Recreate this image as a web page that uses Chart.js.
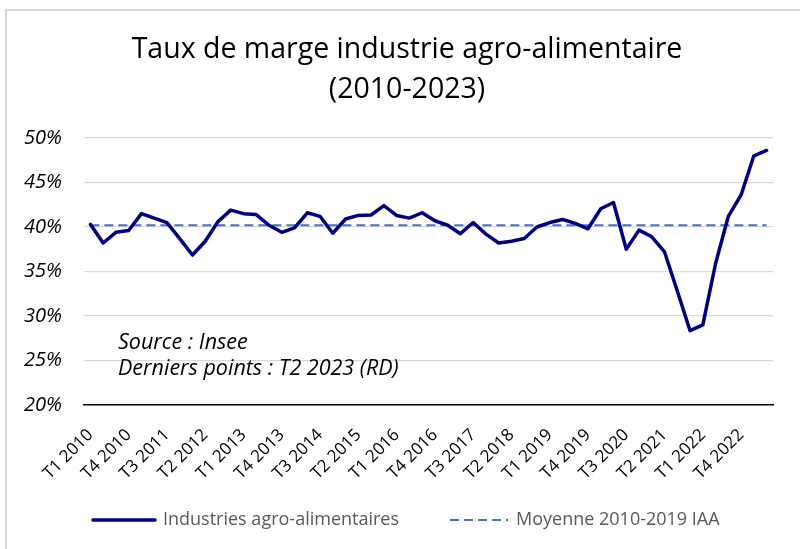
<!DOCTYPE html>
<html>
<head>
<meta charset="utf-8">
<script src="https://cdn.jsdelivr.net/npm/chart.js@4.4.1/dist/chart.umd.min.js"></script>
<style>
  html, body { margin: 0; padding: 0; background: #fff; }
  #wrap { position: relative; width: 800px; height: 549px; }
</style>
</head>
<body>
<div id="wrap"><canvas id="c"></canvas></div>
<script>
const FONT = "'Open Sans', 'Noto Sans', 'Liberation Sans', sans-serif";

const quarters = [];
for (let y = 2010; y <= 2023; y++) {
  for (let q = 1; q <= 4; q++) {
    if (y === 2023 && q > 2) break;
    quarters.push('T' + q + ' ' + y);
  }
}

const seriesLabels = ['Industries agro-alimentaires', 'Moyenne 2010-2019 IAA'];

const tauxMarge = [
  40.3, 38.2, 39.4, 39.6, 41.5, 41.0, 40.5, 38.7, 36.85, 38.4,
  40.6, 41.9, 41.5, 41.4, 40.2, 39.4, 39.9, 41.6, 41.2, 39.3,
  40.9, 41.3, 41.35, 42.4, 41.3, 41.0, 41.6, 40.7, 40.2, 39.25,
  40.5, 39.2, 38.2, 38.4, 38.7, 40.0, 40.5, 40.85, 40.4, 39.8,
  42.05, 42.75, 37.5, 39.65, 38.9, 37.2, 32.8, 28.35, 29.0, 35.9,
  41.2, 43.6, 48.0, 48.6
];

const moyenneValue = 40.2;
const moyenne = quarters.map(() => moyenneValue);

const yTicks = [20, 25, 30, 35, 40, 45, 50];

const annotations = [
  { text: 'Source : Insee', value: 27.0 },
  { text: 'Derniers points : T2 2023 (RD)', value: 24.1 }
];

const framePlugin = {
  id: 'frame',
  beforeDraw(chart) {
    const ctx = chart.ctx;
    ctx.save();
    ctx.fillStyle = '#fff';
    ctx.fillRect(0, 0, chart.width, chart.height);
    ctx.strokeStyle = '#d9d9d9';
    ctx.lineWidth = 2;
    ctx.beginPath();
    ctx.moveTo(6, chart.height + 5);
    ctx.lineTo(6, 10);
    ctx.lineTo(chart.width + 5, 10);
    ctx.stroke();
    ctx.restore();
  }
};

const notePlugin = {
  id: 'notes',
  afterDatasetsDraw(chart) {
    const ctx = chart.ctx;
    const ys = chart.scales.y;
    ctx.save();
    ctx.font = 'italic 21.5px ' + FONT;
    ctx.fillStyle = '#000';
    ctx.textBaseline = 'middle';
    ctx.textAlign = 'left';
    annotations.forEach(a => {
      ctx.fillText(a.text, chart.chartArea.left + 34, ys.getPixelForValue(a.value));
    });
    ctx.restore();
  }
};

const legendPlugin = {
  id: 'customLegend',
  afterDraw(chart) {
    const ctx = chart.ctx;
    const ds = chart.data.datasets;
    const starts = [93, 450];
    const widths = [62, 58];
    const yc = 520;
    ctx.save();
    ctx.font = '18px ' + FONT;
    ctx.fillStyle = '#595959';
    ctx.textBaseline = 'middle';
    ds.forEach((d, i) => {
      ctx.strokeStyle = d.borderColor;
      ctx.lineWidth = d.borderWidth;
      ctx.lineCap = i === 0 ? 'round' : 'butt';
      ctx.setLineDash(d.borderDash || []);
      ctx.beginPath();
      ctx.moveTo(starts[i], yc);
      ctx.lineTo(starts[i] + widths[i], yc);
      ctx.stroke();
      ctx.setLineDash([]);
      ctx.fillText(d.label, starts[i] + widths[i] + 8, yc);
    });
    ctx.restore();
  }
};

new Chart(document.getElementById('c'), {
  type: 'line',
  data: {
    labels: quarters,
    datasets: [
      {
        label: seriesLabels[0],
        data: tauxMarge,
        borderColor: '#000080',
        borderWidth: 3.5,
        pointRadius: 0,
        tension: 0,
        borderJoinStyle: 'round',
        borderCapStyle: 'round'
      },
      {
        label: seriesLabels[1],
        data: moyenne,
        borderColor: '#4472C4',
        borderWidth: 2,
        borderDash: [9, 5],
        pointRadius: 0,
        tension: 0
      }
    ]
  },
  options: {
    responsive: true,
    maintainAspectRatio: false,
    animation: false,
    layout: { padding: { top: 0, left: 14, right: 0, bottom: 64 } },
    plugins: {
      legend: { display: false },
      tooltip: { enabled: false },
      title: {
        display: true,
        text: ['Taux de marge industrie agro-alimentaire', '(2010-2023)'],
        color: '#000',
        font: { family: FONT, size: 28.5, weight: 'normal', lineHeight: 40 / 28.5 },
        padding: { top: 30, bottom: 28 }
      }
    },
    scales: {
      x: {
        offset: true,
        grid: { display: false },
        border: { display: true, color: '#000', width: 1.5 },
        ticks: {
          autoSkip: false,
          maxRotation: 45,
          minRotation: 45,
          color: '#000',
          padding: 12,
          font: { family: FONT, size: 17 },
          callback: function (v, i) { return i % 3 === 0 ? quarters[i] : ''; }
        },
        afterFit: s => { s.height = 80; }
      },
      y: {
        min: 20,
        max: 50,
        afterBuildTicks: s => { s.ticks = yTicks.map(v => ({ value: v })); },
        grid: { color: '#d9d9d9', lineWidth: 1.2, drawTicks: false },
        border: { display: false },
        ticks: {
          color: '#000',
          padding: 22,
          font: { family: FONT, size: 20, style: 'italic' },
          callback: v => v + '%'
        },
        afterFit: s => { s.width = 70; }
      },
      yr: {
        position: 'right',
        display: true,
        grid: { display: false },
        border: { display: false },
        ticks: { display: false },
        afterFit: s => { s.width = 27; }
      }
    }
  },
  plugins: [framePlugin, notePlugin, legendPlugin]
});
</script>
</body>
</html>
